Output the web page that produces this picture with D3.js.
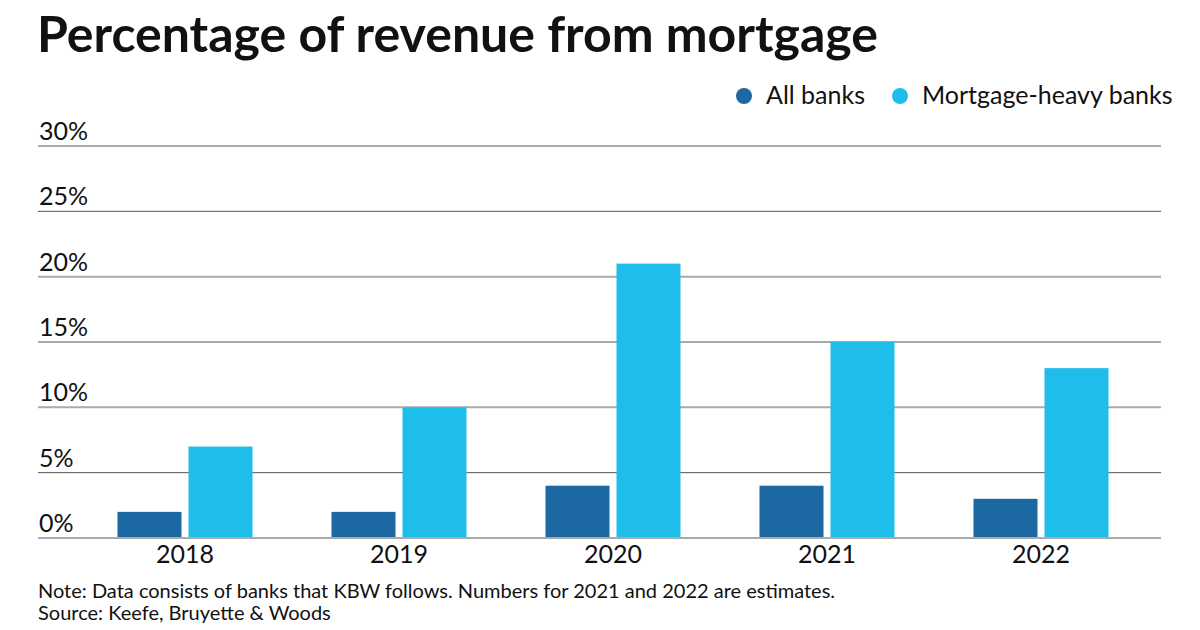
<!DOCTYPE html>
<html>
<head>
<meta charset="utf-8">
<script src="https://cdn.jsdelivr.net/npm/d3@7"></script>
<style>
  body { margin: 0; background: #fff; }
  svg { display: block; font-family: Lato, "Open Sans", sans-serif; }
</style>
</head>
<body>
<div id="chart"></div>
<script>
document.addEventListener("DOMContentLoaded", function() {
    const width = 1200;
    const height = 630;

    const colors = {
        all: "#1c68a3",
        heavy: "#1fbde9"
    };

    // Data
    const years = ["2018", "2019", "2020", "2021", "2022"];
    const allBanks = [2, 2, 4, 4, 3];
    const mortgageHeavy = [7, 10, 21, 15, 13];
    const yTicks = [0, 5, 10, 15, 20, 25, 30];
    const seriesNames = ["All banks", "Mortgage-heavy banks"];

    const svg = d3.select("#chart")
        .append("svg")
        .attr("width", width)
        .attr("height", height);

    const gridLeft = 38;
    const gridRight = 1161;

    const x = d3.scaleBand()
        .domain(years)
        .range([78, 1148])
        .paddingInner(0);

    const y = d3.scaleLinear()
        .domain([0, 30])
        .range([538, 146]);

    const barW = 64;
    const gap = 7;

    // Title
    svg.append("text")
        .attr("x", 37)
        .attr("y", 52)
        .attr("font-size", 50)
        .attr("font-weight", 700)
        .attr("fill", "#111")
        .text("Percentage of revenue from mortgage");

    // Legend
    const legend = svg.append("g");
    const legendItems = [
        { name: seriesNames[0], color: colors.all, cx: 744, tx: 766 },
        { name: seriesNames[1], color: colors.heavy, cx: 900, tx: 922 }
    ];
    legendItems.forEach(d => {
        legend.append("circle")
            .attr("cx", d.cx)
            .attr("cy", 96)
            .attr("r", 8)
            .attr("fill", d.color);
        legend.append("text")
            .attr("x", d.tx)
            .attr("y", 104)
            .attr("font-size", 25)
            .attr("fill", "#111")
            .text(d.name);
    });

    // Gridlines and y labels
    yTicks.forEach((t, i) => {
        svg.append("line")
            .attr("x1", gridLeft)
            .attr("x2", gridRight)
            .attr("y1", y(t))
            .attr("y2", y(t))
            .attr("stroke", i % 2 === 0 ? "#aaa" : "#555")
            .attr("stroke-width", i % 2 === 0 ? 2 : 1);
        svg.append("text")
            .attr("x", 39)
            .attr("y", y(t) - 6)
            .attr("font-size", 25)
            .attr("fill", "#111")
            .text(t + "%");
    });

    // Bars
    const cx = d => x(d) + x.bandwidth() / 2;
    svg.selectAll(".bar-all")
        .data(years)
        .enter().append("rect")
        .attr("x", d => cx(d) - gap / 2 - barW)
        .attr("y", (d, i) => y(allBanks[i]))
        .attr("width", barW)
        .attr("height", (d, i) => y(0) - y(allBanks[i]))
        .attr("fill", colors.all);

    svg.selectAll(".bar-heavy")
        .data(years)
        .enter().append("rect")
        .attr("x", d => cx(d) + gap / 2)
        .attr("y", (d, i) => y(mortgageHeavy[i]))
        .attr("width", barW)
        .attr("height", (d, i) => y(0) - y(mortgageHeavy[i]))
        .attr("fill", colors.heavy);

    // Redraw baseline over bars
    svg.append("line")
        .attr("x1", gridLeft)
        .attr("x2", gridRight)
        .attr("y1", y(0))
        .attr("y2", y(0))
        .attr("stroke", "#aaa")
        .attr("stroke-width", 2);

    // X labels
    svg.selectAll(".xlab")
        .data(years)
        .enter().append("text")
        .attr("x", d => cx(d))
        .attr("y", 563)
        .attr("text-anchor", "middle")
        .attr("font-size", 25)
        .attr("fill", "#111")
        .text(d => d);

    // Notes
    svg.append("text")
        .attr("x", 38)
        .attr("y", 598)
        .attr("font-size", 20)
        .attr("fill", "#111")
        .text("Note: Data consists of banks that KBW follows. Numbers for 2021 and 2022 are estimates.");
    svg.append("text")
        .attr("x", 38)
        .attr("y", 620)
        .attr("font-size", 20)
        .attr("fill", "#111")
        .text("Source: Keefe, Bruyette & Woods");
});
</script>
</body>
</html>
